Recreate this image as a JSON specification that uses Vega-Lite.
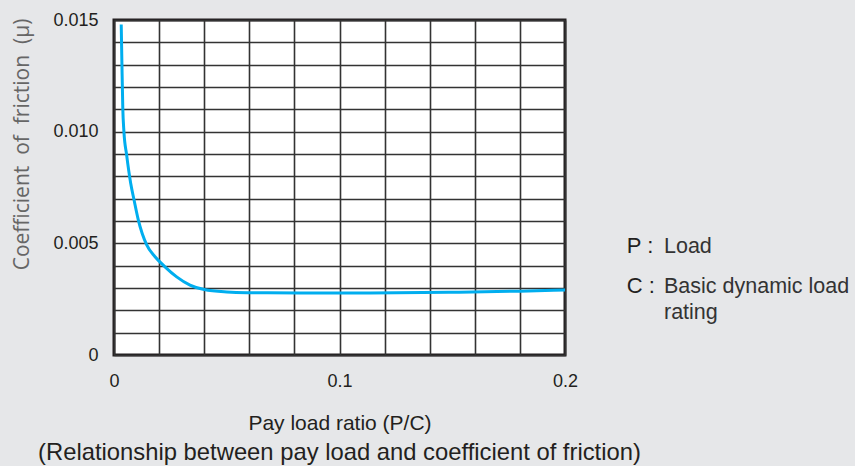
{
  "$schema": "https://vega.github.io/schema/vega-lite/v6.json",
  "width": 451,
  "height": 335,
  "autosize": {"type": "none"},
  "padding": {"left": 114, "top": 20, "right": 290, "bottom": 111},
  "background": "#e6e7e9",
  "config": {
    "view": {"fill": "#ffffff", "stroke": "#231f20", "strokeWidth": 3},
    "font": "Liberation Sans"
  },
  "title": {
    "text": "(Relationship between pay load and coefficient of friction)",
    "orient": "bottom",
    "anchor": "middle",
    "fontSize": 23.8,
    "fontWeight": "normal",
    "color": "#231f20",
    "offset": 8,
    "font": "Liberation Sans"
  },
  "datasets": {
    "curve": [
      {"ratio": 0.0032, "mu": 0.0148},
      {"ratio": 0.0035, "mu": 0.0131},
      {"ratio": 0.0039, "mu": 0.01105},
      {"ratio": 0.0044, "mu": 0.0100},
      {"ratio": 0.0056, "mu": 0.00896},
      {"ratio": 0.0074, "mu": 0.00769},
      {"ratio": 0.0089, "mu": 0.00694},
      {"ratio": 0.0108, "mu": 0.00604},
      {"ratio": 0.0145, "mu": 0.00493},
      {"ratio": 0.0182, "mu": 0.0044},
      {"ratio": 0.0226, "mu": 0.00395},
      {"ratio": 0.0278, "mu": 0.0035},
      {"ratio": 0.0337, "mu": 0.00313},
      {"ratio": 0.04, "mu": 0.00293},
      {"ratio": 0.05, "mu": 0.00282},
      {"ratio": 0.059, "mu": 0.00279},
      {"ratio": 0.0825, "mu": 0.00278},
      {"ratio": 0.1135, "mu": 0.00278},
      {"ratio": 0.149, "mu": 0.00281},
      {"ratio": 0.18, "mu": 0.00286},
      {"ratio": 0.2, "mu": 0.00291}
    ],
    "notes": [
      {"ratio": 0.2274, "mu": 0.00458, "label": "P :", "role": "symbol"},
      {"ratio": 0.2274, "mu": 0.00276, "label": "C :", "role": "symbol"},
      {"ratio": 0.2439, "mu": 0.00458, "label": "Load", "role": "desc"},
      {"ratio": 0.2439, "mu": 0.00276, "label": "Basic dynamic load", "role": "desc"},
      {"ratio": 0.2439, "mu": 0.00161, "label": "rating", "role": "desc"}
    ]
  },
  "encoding": {
    "x": {
      "field": "ratio",
      "type": "quantitative",
      "scale": {"domain": [0, 0.2], "nice": false, "zero": false},
      "axis": {
        "values": [0, 0.02, 0.04, 0.06, 0.08, 0.1, 0.12, 0.14, 0.16, 0.18, 0.2],
        "labelExpr": "datum.value === 0 ? '0' : (round(datum.value * 100) % 10 === 0 ? format(datum.value, '.1f') : '')",
        "grid": true,
        "gridColor": "#333333",
        "gridWidth": 1.6,
        "gridOpacity": 1,
        "ticks": false,
        "domain": false,
        "labelFlush": false,
        "labelOverlap": false,
        "labelFontSize": 18,
        "labelColor": "#231f20",
        "labelPadding": 17,
        "title": "Pay load ratio (P/C)",
        "titleFontSize": 21,
        "titleFontWeight": "normal",
        "titleColor": "#231f20",
        "titlePadding": 22
      }
    },
    "y": {
      "field": "mu",
      "type": "quantitative",
      "scale": {"domain": [0, 0.015], "nice": false, "zero": false},
      "axis": {
        "values": [0, 0.001, 0.002, 0.003, 0.004, 0.005, 0.006, 0.007, 0.008, 0.009, 0.01, 0.011, 0.012, 0.013, 0.014, 0.015],
        "labelExpr": "datum.value === 0 ? '0' : (round(datum.value * 1000) % 5 === 0 ? format(datum.value, '.3f') : '')",
        "grid": true,
        "gridColor": "#333333",
        "gridWidth": 1.6,
        "gridOpacity": 1,
        "ticks": false,
        "domain": false,
        "labelFlush": false,
        "labelOverlap": false,
        "labelFontSize": 18,
        "labelColor": "#231f20",
        "labelPadding": 16,
        "title": "Coefficient\u00a0 of\u00a0 friction\u00a0 (μ)",
        "titleFont": "Open Sans",
        "titleFontSize": 21,
        "titleFontWeight": "normal",
        "titleColor": "#666666",
        "titleX": -92,
        "titleY": 124,
        "titleBaseline": "middle",
        "titleAlign": "center"
      }
    }
  },
  "layer": [
    {
      "data": {"name": "curve"},
      "mark": {"type": "line", "color": "#00aeef", "strokeWidth": 3, "interpolate": "monotone"}
    },
    {
      "data": {"name": "notes"},
      "transform": [{"filter": "datum.role === 'symbol'"}],
      "mark": {"type": "text", "align": "left", "baseline": "alphabetic", "fontSize": 22, "color": "#231f20"},
      "encoding": {"text": {"field": "label"}}
    },
    {
      "data": {"name": "notes"},
      "transform": [{"filter": "datum.role === 'desc'"}],
      "mark": {"type": "text", "align": "left", "baseline": "alphabetic", "fontSize": 21.5, "color": "#333333"},
      "encoding": {"text": {"field": "label"}}
    }
  ]
}
